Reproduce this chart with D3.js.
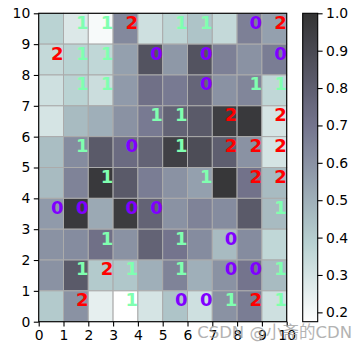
<!DOCTYPE html>
<html>
<head>
<meta charset="utf-8">
<script src="https://cdn.jsdelivr.net/npm/d3@7"></script>
<style>
  html, body { margin: 0; padding: 0; background: #fff; }
  text { font-family: "DejaVu Sans", sans-serif; }
</style>
</head>
<body>
<div id="chart"></div>
<script>
// valeurs des cellules, de la ligne du haut (y = 9) à celle du bas (y = 0)
const cellValues = [
  [0.38, 0.28, 0.20, 0.63, 0.32, 0.37, 0.43, 0.35, 0.66, 0.55],
  [0.35, 0.38, 0.36, 0.55, 0.85, 0.58, 0.85, 0.66, 0.60, 0.67],
  [0.32, 0.38, 0.33, 0.57, 0.72, 0.68, 0.77, 0.60, 0.64, 0.36],
  [0.30, 0.46, 0.50, 0.60, 0.68, 0.78, 0.82, 0.95, 0.97, 0.30],
  [0.45, 0.62, 0.82, 0.74, 0.78, 0.94, 0.88, 0.80, 0.60, 0.30],
  [0.46, 0.65, 0.97, 0.82, 0.67, 0.60, 0.55, 0.98, 0.71, 0.46],
  [0.57, 0.97, 0.52, 0.96, 0.78, 0.60, 0.65, 0.62, 0.82, 0.46],
  [0.60, 0.62, 0.72, 0.60, 0.78, 0.70, 0.62, 0.46, 0.62, 0.36],
  [0.60, 0.82, 0.41, 0.42, 0.50, 0.65, 0.50, 0.60, 0.70, 0.46],
  [0.41, 0.60, 0.25, 0.175, 0.30, 0.43, 0.32, 0.60, 0.67, 0.32]
];

// étiquettes des cellules (null = pas de texte), même ordre
const cellLabels = [
  [null, 1, 1, 2, null, 1, 1, null, 0, 2],
  [2, 1, 1, null, 0, null, 0, null, null, 0],
  [null, 1, 1, null, null, null, 0, null, 1, 1],
  [null, null, null, null, 1, 1, null, 2, null, 2],
  [null, 1, null, 0, null, 1, null, 2, 2, 2],
  [null, null, 1, null, null, null, 1, null, 2, 2],
  [0, 0, null, 0, 0, null, null, null, null, 1],
  [null, null, 1, null, null, 1, null, 0, null, null],
  [null, 1, 2, 1, null, 1, null, 0, 0, 1],
  [null, 2, null, 1, null, 0, 0, 1, 2, 1]
];

const axisTicks = d3.range(0, 11);
const colorbarTicks = [0.2, 0.3, 0.4, 0.5, 0.6, 0.7, 0.8, 0.9, 1.0];
const valueDomain = [0.175, 1.0];
const labelColors = ["#8000ff", "#80ffb0", "#ff0000"];

//---------------------------------------------------------------------------------------

const width = 364;
const height = 351;
const plot = { left: 38.7, right: 286.7, top: 13.3, bottom: 321.7 };
const cbar = { left: 302.7, right: 317.7 };

const svg = d3.select("#chart")
  .append("svg")
  .attr("width", width)
  .attr("height", height);

// colormap bone_r avec alpha 0.8 sur fond blanc
function bone(s) {
  const interp = (pts) => {
    for (let i = 1; i < pts.length; i++) {
      if (s <= pts[i][0]) {
        const [x0, y0] = pts[i - 1], [x1, y1] = pts[i];
        return y0 + (s - x0) / (x1 - x0) * (y1 - y0);
      }
    }
    return pts[pts.length - 1][1];
  };
  const r = interp([[0, 0], [0.746032, 0.652778], [1, 1]]);
  const g = interp([[0, 0], [0.365079, 0.319444], [0.746032, 0.777778], [1, 1]]);
  const b = interp([[0, 0], [0.365079, 0.444444], [1, 1]]);
  const blend = (c) => Math.round((0.2 + 0.8 * c) * 255);
  return `rgb(${blend(r)},${blend(g)},${blend(b)})`;
}

const norm = d3.scaleLinear().domain(valueDomain).range([0, 1]).clamp(true);
const color = (v) => bone(1 - norm(v));

const scaleX = d3.scaleLinear().domain([0, 10]).range([plot.left, plot.right]);
const scaleY = d3.scaleLinear().domain([0, 10]).range([plot.bottom, plot.top]);

//---------------------------------------------------------------------------------------

// cellules
const cells = [];
cellValues.forEach((row, r) => {
  row.forEach((v, c) => {
    cells.push({ col: c, row: 9 - r, value: v, label: cellLabels[r][c] });
  });
});

svg.append("g")
  .selectAll("rect")
  .data(cells)
  .join("rect")
  .attr("x", d => scaleX(d.col))
  .attr("y", d => scaleY(d.row + 1))
  .attr("width", d => scaleX(d.col + 1) - scaleX(d.col))
  .attr("height", d => scaleY(d.row) - scaleY(d.row + 1))
  .attr("fill", d => color(d.value))
  .attr("stroke", "#ababab")
  .attr("stroke-width", 1);

// étiquettes
svg.append("g")
  .selectAll("text")
  .data(cells.filter(d => d.label !== null))
  .join("text")
  .attr("x", d => scaleX(d.col + 0.5))
  .attr("y", d => scaleY(d.row + 0.5))
  .attr("font-size", 18)
  .attr("font-weight", "bold")
  .attr("fill", d => labelColors[d.label])
  .text(d => d.label);

//---------------------------------------------------------------------------------------

// axes
const xAxis = svg.append("g")
  .attr("transform", `translate(0, ${plot.bottom})`)
  .call(d3.axisBottom(scaleX).tickValues(axisTicks).tickSize(4.9).tickPadding(3.5).tickFormat(d3.format("d")));

const yAxis = svg.append("g")
  .attr("transform", `translate(${plot.left}, 0)`)
  .call(d3.axisLeft(scaleY).tickValues(axisTicks).tickSize(4.9).tickPadding(3.5).tickFormat(d3.format("d")));

[xAxis, yAxis].forEach(g => {
  g.select(".domain").remove();
  g.selectAll(".tick line").attr("stroke", "#000").attr("stroke-width", 1.1);
  g.selectAll(".tick text")
    .attr("fill", "#000")
    .style("font-family", "DejaVu Sans")
    .style("font-size", "13.9px");
});

// cadre du graphique
svg.append("rect")
  .attr("x", plot.left)
  .attr("y", plot.top)
  .attr("width", plot.right - plot.left)
  .attr("height", plot.bottom - plot.top)
  .attr("fill", "none")
  .attr("stroke", "#000")
  .attr("stroke-width", 1.1);

//---------------------------------------------------------------------------------------

// barre de couleur
const scaleC = d3.scaleLinear().domain(valueDomain).range([plot.bottom, plot.top]);

const grad = svg.append("defs")
  .append("linearGradient")
  .attr("id", "cbar-grad")
  .attr("x1", 0).attr("y1", 1)
  .attr("x2", 0).attr("y2", 0);

grad.selectAll("stop")
  .data(d3.range(0, 1.0001, 0.02))
  .join("stop")
  .attr("offset", d => d)
  .attr("stop-color", d => bone(1 - d));

svg.append("rect")
  .attr("x", cbar.left)
  .attr("y", plot.top)
  .attr("width", cbar.right - cbar.left)
  .attr("height", plot.bottom - plot.top)
  .attr("fill", "url(#cbar-grad)")
  .attr("stroke", "#000")
  .attr("stroke-width", 1.1);

const cAxis = svg.append("g")
  .attr("transform", `translate(${cbar.right}, 0)`)
  .call(d3.axisRight(scaleC).tickValues(colorbarTicks).tickSize(4.9).tickPadding(3.5).tickFormat(d3.format(".1f")));

cAxis.select(".domain").remove();
cAxis.selectAll(".tick line").attr("stroke", "#000").attr("stroke-width", 1.1);
cAxis.selectAll(".tick text")
  .attr("fill", "#000")
  .style("font-family", "DejaVu Sans")
  .style("font-size", "13.9px");

//---------------------------------------------------------------------------------------

// filigrane
svg.append("text")
  .attr("x", 352)
  .attr("y", 338)
  .attr("text-anchor", "end")
  .attr("font-size", 16.5)
  .attr("fill", "#9a9a9a")
  .attr("opacity", 0.75)
  .style("font-family", "'DejaVu Sans', 'Noto Sans CJK SC', sans-serif")
  .text("CSDN @小斋的CDN");
</script>
</body>
</html>
